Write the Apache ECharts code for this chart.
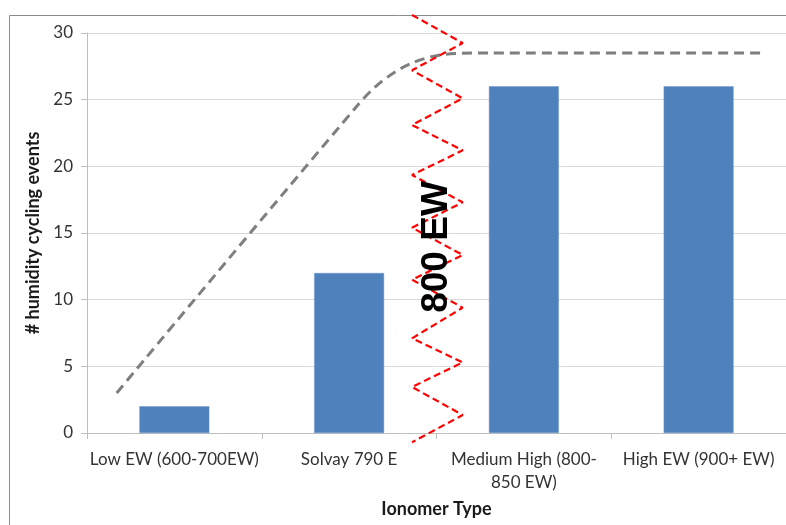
<!DOCTYPE html>
<html>
<head>
<meta charset="utf-8">
<script src="https://cdn.jsdelivr.net/npm/echarts@6/dist/echarts.min.js"></script>
<style>
  html, body { margin: 0; padding: 0; background: #fff; }
  #chart { width: 786px; height: 525px; }
</style>
</head>
<body>
<div id="chart"></div>
<script>
var categories = ['Low EW (600-700EW)', 'Solvay 790 E', 'Medium High (800-\n850 EW)', 'High EW (900+ EW)'];
var cyclingEvents = [2, 12, 26, 26];
var yTicks = [0, 5, 10, 15, 20, 25, 30];

// trend line, x in category units (0..4 across the axis)
var trendX = [0.17, 1.55, 1.68, 1.85, 2.05, 2.3, 3.86];
var trendY = [3, 24.6, 26.3, 27.7, 28.4, 28.5, 28.5];

// red zigzag divider between 790 and 800 EW
var zigX = [1.86, 2.15, 1.86, 2.15, 1.86, 2.15, 1.86, 2.15, 1.86, 2.15, 1.86, 2.15, 1.86, 2.15, 1.86, 2.15, 1.86];
var zigY = [31.35, 29.25, 27.2, 25.1, 23.1, 21.2, 19.35, 17.3, 15.4, 13.35, 11.5, 9.4, 7.1, 5.3, 3.45, 1.35, -0.7];

function pairs(xs, ys) {
    return xs.map(function (x, i) { return [x, ys[i]]; });
}

var font = 'Lato, "Open Sans", sans-serif';

var chart = echarts.init(document.getElementById('chart'));
var opt = {
    animation: false,
    grid: {left: 87, right: 0, top: 33, bottom: 92},
    graphic: [
        {type: 'rect', shape: {x: 9.5, y: 15.5, width: 800, height: 520}, style: {fill: 'none', stroke: '#8c8c8c', lineWidth: 1}, z: -1},
        {type: 'text', x: 437, y: 247, rotation: Math.PI / 2,
         style: {text: '800 EW', font: 'bold 37px "Liberation Sans", Arial, sans-serif', fill: '#000', align: 'center', verticalAlign: 'middle'}, z: 10}
    ],
    xAxis: [{
        type: 'category',
        data: categories,
        name: 'Ionomer Type',
        nameLocation: 'middle',
        nameGap: 67,
        nameTextStyle: {fontFamily: font, fontWeight: 'bold', fontSize: 18, color: '#1a1a1a'},
        axisLine: {lineStyle: {color: '#bfbfbf'}},
        axisTick: {show: true, length: 6, lineStyle: {color: '#bfbfbf'}},
        axisLabel: {fontFamily: font, fontSize: 17, color: '#333', margin: 15, lineHeight: 23, interval: 0}
    }, {
        type: 'value', min: 0, max: 4, show: false
    }],
    yAxis: {
        type: 'value',
        min: 0, max: 30, interval: 5,
        name: '# humidity cycling events',
        nameLocation: 'middle',
        nameGap: 38,
        nameTextStyle: {fontFamily: font, fontWeight: 'bold', fontSize: 18, color: '#1a1a1a'},
        axisLine: {show: true, lineStyle: {color: '#bfbfbf'}},
        axisTick: {show: true, length: 6, lineStyle: {color: '#bfbfbf'}},
        axisLabel: {fontFamily: font, fontSize: 17, color: '#333', margin: 14,
            formatter: function (v) { return yTicks.indexOf(v) >= 0 ? String(v) : ''; }},
        splitLine: {lineStyle: {color: '#d9d9d9'}}
    },
    series: [{
        type: 'bar',
        data: cyclingEvents,
        barWidth: '40%',
        itemStyle: {color: '#4f81bd', borderColor: '#6a93c8', borderWidth: 0.5}
    }, {
        type: 'line',
        xAxisIndex: 1,
        data: pairs(trendX, trendY),
        smooth: 0.3,
        symbol: 'none',
        lineStyle: {color: '#7f7f7f', width: 3, type: [10, 6]},
        z: 3
    }, {
        type: 'line',
        xAxisIndex: 1,
        data: pairs(zigX, zigY),
        symbol: 'none',
        clip: false,
        lineStyle: {color: '#ff0000', width: 2.2, type: [7, 4]},
        z: 4
    }]
};
chart.setOption(opt);
</script>
</body>
</html>
